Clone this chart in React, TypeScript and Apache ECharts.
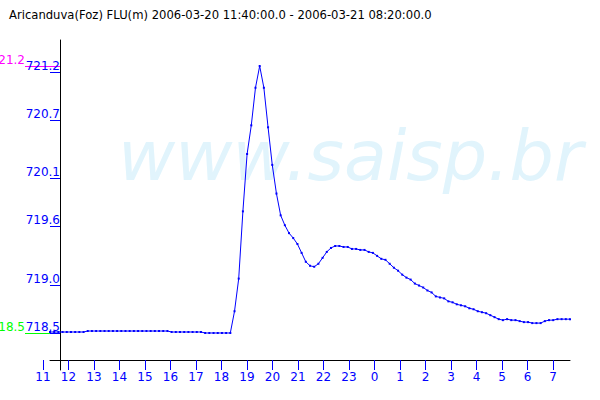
import React, { useEffect, useRef } from "react";
import * as echarts from "echarts";

const TITLE = "Aricanduva(Foz) FLU(m) 2006-03-20 11:40:00.0 - 2006-03-21 08:20:00.0";
const WATERMARK = "www.saisp.br";

// 10-minute readings starting 2006-03-20 11:40
const START_HOUR = 11 + 40 / 60;
const STEP_HOURS = 10 / 60;
const levels = [
  718.51, 718.51, 718.51, 718.51, 718.51, 718.51, 718.51, 718.51, 718.51,
  718.52, 718.52, 718.52, 718.52, 718.52, 718.52, 718.52, 718.52, 718.52, 718.52,
  718.52, 718.52, 718.52, 718.52, 718.52, 718.52, 718.52, 718.52, 718.52, 718.52,
  718.51, 718.51, 718.51, 718.51, 718.51, 718.51, 718.51, 718.51,
  718.50, 718.50, 718.50, 718.50, 718.50, 718.50, 718.50,
  718.72, 719.05, 719.73, 720.31, 720.60, 720.98, 721.20, 720.98, 720.58, 720.20,
  719.91, 719.69, 719.59, 719.51, 719.46, 719.40, 719.31, 719.22, 719.18, 719.17,
  719.20, 719.26, 719.32, 719.36, 719.38, 719.38, 719.37, 719.37, 719.35, 719.35,
  719.34, 719.34, 719.32, 719.31, 719.28, 719.25, 719.24, 719.20, 719.16, 719.13,
  719.09, 719.06, 719.04, 719.00, 718.98, 718.96, 718.93, 718.91, 718.87, 718.86,
  718.85, 718.82, 718.81, 718.79, 718.78, 718.77, 718.75, 718.74, 718.72, 718.71,
  718.70, 718.68, 718.66, 718.64, 718.63, 718.64, 718.63, 718.63, 718.62, 718.61,
  718.61, 718.60, 718.60, 718.60, 718.62, 718.63, 718.63, 718.64, 718.64, 718.64, 718.64,
];

// hour ticks (hours since 2006-03-20 00:00)
const hourTicks = [11, 12, 13, 14, 15, 16, 17, 18, 19, 20, 21, 22, 23, 24, 25, 26, 27, 28, 29, 30, 31];
const yTickValues = [721.139, 720.654, 720.067, 719.582, 718.985, 718.5];
const yTickLabels = ["721.2", "720.7", "720.1", "719.6", "719.0", "718.5"];

const FONT = "DejaVu Sans";
const BLUE = "#0000ff";

export default function App() {
  const ref = useRef<HTMLDivElement>(null);
  useEffect(() => {
    if (!ref.current) return;
    const chart = echarts.init(ref.current, null, { renderer: "svg" });
    const maxV = Math.max(...levels);
    const minV = Math.min(...levels);
    const pts = levels.map((v, i) => [START_HOUR + i * STEP_HOURS, v]);
    const yTop = 721.4629;
    const markerAxis = (val: number, color: string) => ({
      gridIndex: 0,
      type: "value",
      position: "left",
      min: 718.1258,
      max: yTop,
      axisLine: { show: false },
      axisTick: { show: true, length: 35, customValues: [val], lineStyle: { color } },
      axisLabel: {
        customValues: [val],
        formatter: () => val.toFixed(1),
        color,
        fontFamily: FONT,
        fontSize: 12,
        margin: 35,
        align: "right",
        verticalAlign: "bottom",
        lineHeight: 12,
      },
      splitLine: { show: false },
    });
    const option: any = {
      animation: false,
      backgroundColor: "#ffffff",
      title: {
        text: TITLE,
        left: 4,
        top: 4,
        textStyle: { fontFamily: FONT, fontSize: 11.6, fontWeight: "normal", color: "#000" },
      },
      graphic: [
        {
          type: "text",
          x: 118,
          y: 156,
          z: 0,
          style: {
            text: WATERMARK,
            fontFamily: FONT,
            fontStyle: "italic",
            fontSize: 70,
            fill: "#e1f4fc",
            verticalAlign: "middle",
          },
        },
      ],
      grid: [
        { left: 60, right: 30, top: 40, bottom: 30, outerBoundsMode: "none" },
        { left: 43, right: 30, top: 40, bottom: 40, outerBoundsMode: "none" },
        { left: 50, right: 30, top: 40, bottom: 40, outerBoundsMode: "none" },
      ],
      xAxis: [
        { gridIndex: 0, type: "value", show: false, min: 0, max: 1 },
        {
          gridIndex: 1,
          type: "value",
          min: 11,
          max: 31.6667,
          axisLine: { show: false },
          axisTick: { show: true, length: 10, customValues: hourTicks, lineStyle: { color: BLUE } },
          axisLabel: {
            customValues: hourTicks,
            formatter: (v: number) => String(Math.round(v) % 24),
            color: BLUE,
            fontFamily: FONT,
            fontSize: 12,
            margin: 11,
          },
          splitLine: { show: false },
        },
        {
          gridIndex: 2,
          type: "value",
          min: START_HOUR,
          max: START_HOUR + (levels.length - 1) * STEP_HOURS,
          axisLine: { show: true, lineStyle: { color: "#000" } },
          axisTick: { show: false },
          axisLabel: { show: false },
          splitLine: { show: false },
        },
      ],
      yAxis: [
        markerAxis(maxV, "#ff00ff"),
        markerAxis(minV, "#00ff00"),
        {
          gridIndex: 0,
          type: "value",
          position: "left",
          min: 718.1258,
          max: yTop,
          axisLine: { show: true, lineStyle: { color: "#000" } },
          axisTick: { show: true, length: 10, customValues: yTickValues, lineStyle: { color: BLUE } },
          axisLabel: {
            customValues: yTickValues,
            formatter: (v: number) => {
              let best = 0;
              yTickValues.forEach((t, i) => {
                if (Math.abs(t - v) < Math.abs(yTickValues[best] - v)) best = i;
              });
              return yTickLabels[best];
            },
            color: BLUE,
            fontFamily: FONT,
            fontSize: 12,
            margin: 0,
            verticalAlign: "bottom",
            lineHeight: 12,
          },
          splitLine: { show: false },
        },
        { gridIndex: 1, type: "value", show: false },
        { gridIndex: 2, type: "value", show: false, min: 718.2269, max: yTop },
      ],
      series: [
        {
          type: "line",
          xAxisIndex: 2,
          yAxisIndex: 4,
          data: pts,
          showSymbol: true,
          symbol: "rect",
          symbolSize: 2,
          itemStyle: { color: BLUE },
          lineStyle: { color: BLUE, width: 1 },
          z: 5,
        },
      ],
    };
    chart.setOption(option);
    return () => chart.dispose();
  }, []);
  return (
    <div
      ref={ref}
      style={{ position: "fixed", left: 0, top: 0, width: 600, height: 400, background: "#fff" }}
    />
  );
}
